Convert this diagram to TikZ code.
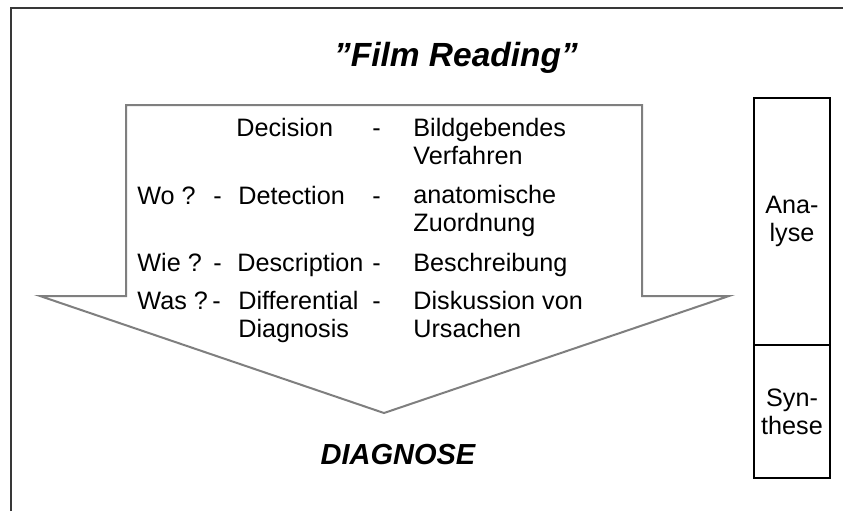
\documentclass[tikz,border=0pt]{standalone}
\usepackage{fontspec}
\setmainfont{Liberation Sans}
\definecolor{framegray}{HTML}{383838}
\definecolor{arrowgray}{HTML}{7F7F7F}

\begin{document}
\begin{tikzpicture}[
  x=0.5pt,
  y=-0.5pt,
  every node/.style={font=\fontsize{12.6}{14}\selectfont, black},
  cell/.style={anchor=base west, inner sep=0pt, align=left},
  frameline/.style={framegray, line width=0.75pt},
  bigarrow/.style={arrowgray, line width=1pt, fill=white, line join=miter},
  phase/.style={draw=black, line width=0.75pt, minimum width=38pt, align=center, inner sep=0pt},
  headline/.style={font=\fontsize{16.75}{20}\selectfont\bfseries\itshape},
  result/.style={font=\fontsize{14.5}{17}\selectfont\bfseries\itshape}
]
\useasboundingbox (0,0) rectangle (843,511);

% =====================================================================
% frame and the big arrow
% =====================================================================
\draw[frameline] (11,511) -- (11,8) -- (843,8);
\draw[bigarrow] (126,105) -- (642,105) -- (642,296) -- (729,296)
  -- (384,413) -- (40,296) -- (126,296) -- cycle;

\node[headline] (title) at (456,58) {\symbol{34}Film Reading\symbol{34}};
\node[result] (diag) at (398,455) {DIAGNOSE};

% =====================================================================
% the four steps (two-line cells sit on their last baseline)
% =====================================================================
\node[cell] (dec) at (236,136) {Decision};
\node[cell] (decdash) at (372,136) {-};
\node[cell] (decwhat) at (413,164) {Bildgebendes\\Verfahren};

\node[cell] (wo) at (137,204) {Wo ?};
\node[cell] (wodash) at (213,204) {-};
\node[cell] (det) at (238,204) {Detection};
\node[cell] (detdash) at (372,204) {-};
\node[cell] (detwhat) at (413,231) {anatomische\\Zuordnung};

\node[cell] (wie) at (137,271) {Wie ?};
\node[cell] (wiedash) at (213,271) {-};
\node[cell] (desc) at (237,271) {Description};
\node[cell] (descdash) at (372,271) {-};
\node[cell] (descwhat) at (413,271) {Beschreibung};

\node[cell] (was) at (137,309) {Was ?};
\node[cell] (wasdash) at (212,309) {-};
\node[cell] (diff) at (238,337) {Differential\\Diagnosis};
\node[cell] (diffdash) at (372,309) {-};
\node[cell] (diffwhat) at (413,337) {Diskussion von\\Ursachen};

% =====================================================================
% analysis / synthesis column
% =====================================================================
\node[phase, minimum height=123.5pt] (ana) at (792,221.5) {Ana-\\lyse};
\node[phase, minimum height=66.5pt] (syn) at (792,411.5) {Syn-\\these};

\end{tikzpicture}
\end{document}
